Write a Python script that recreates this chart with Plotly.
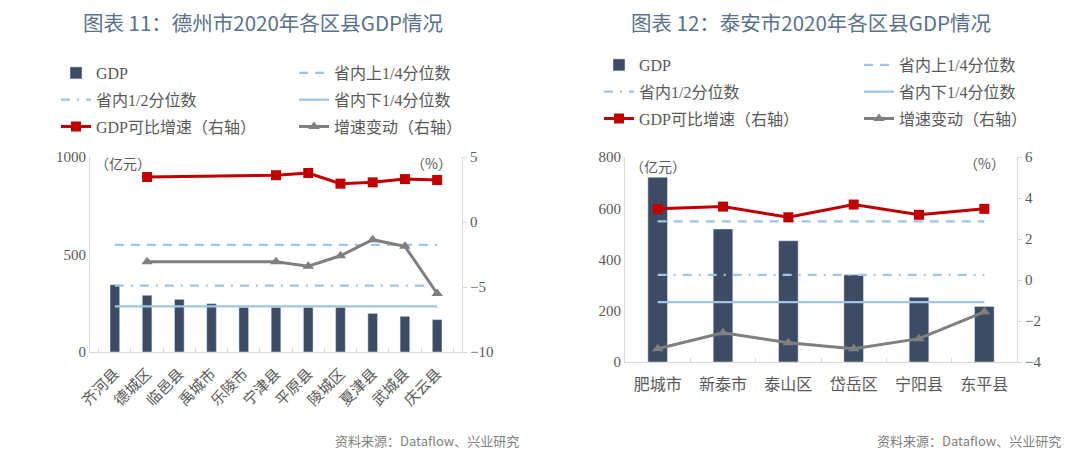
import plotly.graph_objects as go

# ---------------- data ----------------
dz_cats = ["齐河县", "德城区", "临邑县", "禹城市", "乐陵市", "宁津县", "平原县", "陵城区", "夏津县", "武城县", "庆云县"]
dz_gdp = [345, 291, 270, 248, 229, 229, 229, 229, 198, 183, 166]
dz_growth = [None, 3.46, None, None, None, 3.6, 3.77, 2.95, 3.05, 3.3, 3.23]
dz_change = [None, -3.05, None, None, None, -3.05, -3.4, -2.6, -1.36, -1.87, -5.5]

ta_cats = ["肥城市", "新泰市", "泰山区", "岱岳区", "宁阳县", "东平县"]
ta_gdp = [721, 519, 473, 340, 253, 217]
ta_growth = [3.47, 3.58, 3.06, 3.68, 3.18, 3.47]
ta_change = [-3.35, -2.57, -3.06, -3.35, -2.86, -1.55]

q_upper = 549
q_median = 340
q_lower = 234

# ---------------- styles ----------------
BAR = "#3d4b65"
RED = "#c00000"
GRAY = "#7f7f7f"
QBLUE = "#9ec5e6"
TXT = "#595959"
SERIF = "Liberation Serif, Noto Sans CJK SC"
CJK = "Noto Sans CJK SC"

fig = go.Figure()


def add_chart(cats, gdp, growth, change, xa, ya, ya2, leg_a, leg_b, tag):
    fig.add_trace(go.Bar(x=cats, y=gdp, name="GDP", marker_color=BAR, width=0.3,
                         xaxis=xa, yaxis=ya, legend=leg_a, legendgroup=tag + "a"))
    fig.add_trace(go.Scatter(x=cats, y=[q_upper] * len(cats), mode="lines", name="省内上1/4分位数",
                             line=dict(color=QBLUE, width=2.2, dash="9px,7px"),
                             xaxis=xa, yaxis=ya, legend=leg_b, legendgroup=tag + "b"))
    fig.add_trace(go.Scatter(x=cats, y=[q_median] * len(cats), mode="lines", name="省内1/2分位数",
                             line=dict(color=QBLUE, width=2.2, dash="9px,7px,2px,7px"),
                             xaxis=xa, yaxis=ya, legend=leg_a, legendgroup=tag + "c"))
    fig.add_trace(go.Scatter(x=cats, y=[q_lower] * len(cats), mode="lines", name="省内下1/4分位数",
                             line=dict(color=QBLUE, width=2.2),
                             xaxis=xa, yaxis=ya, legend=leg_b, legendgroup=tag + "d"))
    fig.add_trace(go.Scatter(x=cats, y=growth, mode="lines+markers", name="GDP可比增速（右轴）",
                             connectgaps=True,
                             line=dict(color=RED, width=3),
                             marker=dict(symbol="square", size=10, color=RED),
                             xaxis=xa, yaxis=ya2, legend=leg_a, legendgroup=tag + "e"))
    fig.add_trace(go.Scatter(x=cats, y=change, mode="lines+markers", name="增速变动（右轴）",
                             connectgaps=True,
                             line=dict(color=GRAY, width=3),
                             marker=dict(symbol="triangle-up", size=10, color=GRAY),
                             xaxis=xa, yaxis=ya2, legend=leg_b, legendgroup=tag + "f"))


add_chart(dz_cats, dz_gdp, dz_growth, dz_change, "x", "y", "y2", "legend", "legend2", "L")
add_chart(ta_cats, ta_gdp, ta_growth, ta_change, "x2", "y3", "y4", "legend3", "legend4", "R")

W, H = 1080, 467


def px(v):
    return v / W


def py(v):
    return 1 - v / H


axis_common = dict(showgrid=False, zeroline=False, showline=True, linecolor="#d9d9d9", linewidth=1,
                   automargin=False, tickfont=dict(family=SERIF, size=15, color=TXT))

legend_common = dict(orientation="v", bgcolor="rgba(0,0,0,0)", font=dict(family=SERIF, size=16, color=TXT),
                     tracegroupgap=3, itemwidth=30, yanchor="top", xanchor="left", traceorder="grouped")

fig.update_layout(
    width=W, height=H,
    margin=dict(l=0, r=0, t=0, b=0, autoexpand=False),
    paper_bgcolor="white", plot_bgcolor="white",
    bargap=0.7,
    xaxis=dict(domain=[px(90), px(462)], anchor="y", type="category",
               tickangle=-45, ticks="inside", tickson="boundaries", ticklen=4, tickcolor="#d9d9d9",
               ticklabelstandoff=6,
               **{**axis_common, "tickfont": dict(family=CJK, size=15, color=TXT)}),
    yaxis=dict(domain=[py(352), py(157)], anchor="x", range=[0, 1000], tickvals=[0, 500, 1000],
               ticks="", **axis_common),
    yaxis2=dict(overlaying="y", side="right", anchor="x", range=[-10, 5], tickvals=[-10, -5, 0, 5],
                ticks="outside", ticklen=4, tickcolor="#d9d9d9", **axis_common),
    xaxis2=dict(domain=[px(625), px(1017)], anchor="y3", type="category",
                ticks="inside", tickson="boundaries", ticklen=4, tickcolor="#d9d9d9",
                ticklabelstandoff=8,
                **{**axis_common, "tickfont": dict(family=CJK, size=16, color=TXT)}),
    yaxis3=dict(domain=[py(362), py(157)], anchor="x2", range=[0, 800], tickvals=[0, 200, 400, 600, 800],
                ticks="", **axis_common),
    yaxis4=dict(overlaying="y3", side="right", anchor="x2", range=[-4, 6], tickvals=[-4, -2, 0, 2, 4, 6],
                ticks="outside", ticklen=4, tickcolor="#d9d9d9", **axis_common),
    legend=dict(x=px(56), y=py(56), **legend_common),
    legend2=dict(x=px(294), y=py(56), **legend_common),
    legend3=dict(x=px(599), y=py(48), **legend_common),
    legend4=dict(x=px(859), y=py(48), **legend_common),
    showlegend=True,
)

annos = [
    dict(x=px(263), y=py(22), text="图表 11：德州市2020年各区县GDP情况", font=dict(family=CJK, size=20.5, color="#5a7189")),
    dict(x=px(811), y=py(22), text="图表 12：泰安市2020年各区县GDP情况", font=dict(family=CJK, size=20.5, color="#5a7189")),
    dict(x=px(93), y=py(163), text="（亿元）", xanchor="left", font=dict(family=CJK, size=14, color=TXT)),
    dict(x=px(454), y=py(163), text="（%）", xanchor="right", font=dict(family=CJK, size=14, color=TXT)),
    dict(x=px(628), y=py(166), text="（亿元）", xanchor="left", font=dict(family=CJK, size=14, color=TXT)),
    dict(x=px(1007), y=py(163), text="（%）", xanchor="right", font=dict(family=CJK, size=14, color=TXT)),
    dict(x=px(521), y=py(440), text="资料来源：Dataflow、兴业研究", xanchor="right", font=dict(family=CJK, size=13, color="#7f7f7f")),
    dict(x=px(1063), y=py(440), text="资料来源：Dataflow、兴业研究", xanchor="right", font=dict(family=CJK, size=13, color="#7f7f7f")),
]
for a in annos:
    a.setdefault("xanchor", "center")
    fig.add_annotation(xref="paper", yref="paper", showarrow=False, yanchor="middle", **a)

fig.write_html("out.html", config={"displayModeBar": False},
               post_script="document.body.style.margin='0';document.body.style.padding='0';")
